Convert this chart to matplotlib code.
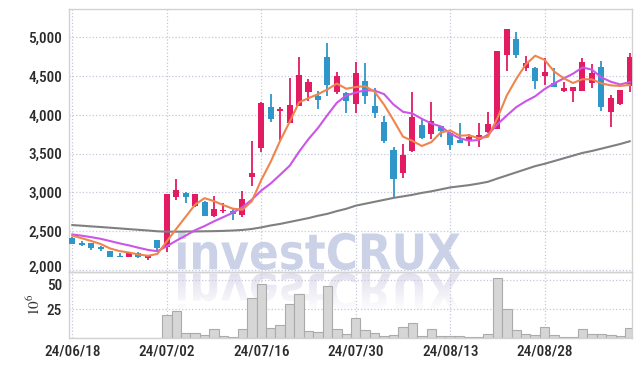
import numpy as np
import pandas as pd
import matplotlib
matplotlib.use('Agg')
import matplotlib.pyplot as plt
from matplotlib.textpath import TextPath
from matplotlib.patches import PathPatch
from matplotlib.font_manager import FontProperties
from matplotlib.transforms import Affine2D, ScaledTranslation
from matplotlib.ticker import FuncFormatter

# trading days (KRX, 8/15 holiday)
dates = pd.bdate_range('2024-06-18', '2024-09-10', freq='C', holidays=['2024-08-15'])

opens = [2416, 2352, 2348, 2300, 2245, 2185, 2172, 2223, 2155, 2387,
         2293, 2937, 2996, 2829, 2880, 2700, 2760, 2760, 2709, 3203,
         3568, 4101, 4053, 3895, 4118, 4298, 4243, 4746, 4298, 4282,
         4136, 4432, 4114, 3908, 3547, 3246, 3538, 3869, 3749, 3856,
         3770, 3676, 3676, 3689, 3775, 3821, 4775, 4978, 4608, 4608,
         4505, 4407, 4307, 4307, 4311, 4407, 4621, 4041, 4136, 4372]
highs = [2430, 2374, 2350, 2305, 2250, 2223, 2228, 2228, 2198, 2390,
         2985, 3169, 3010, 2985, 2885, 2958, 2868, 2795, 3022, 3667,
         4160, 4269, 4105, 4480, 4742, 4466, 4311, 4922, 4557, 4290,
         4686, 4664, 4350, 3985, 3582, 3624, 4290, 3946, 4162, 3860,
         3775, 3891, 3753, 3891, 4041, 4830, 5110, 5068, 4759, 4615,
         4729, 4600, 4420, 4365, 4729, 4651, 4690, 4256, 4325, 4793]
lows = [2330, 2310, 2254, 2249, 2168, 2168, 2168, 2160, 2129, 2245,
        2232, 2902, 2868, 2810, 2695, 2679, 2731, 2645, 2679, 3083,
        3521, 3904, 3676, 3890, 4110, 4182, 4071, 4243, 4269, 4020,
        4020, 4136, 3955, 3633, 2945, 3182, 3525, 3690, 3685, 3711,
        3547, 3635, 3598, 3590, 3770, 3815, 4569, 4729, 4569, 4333,
        4385, 4355, 4300, 4170, 4305, 4350, 4050, 3840, 4130, 4298]
closes = [2340, 2318, 2287, 2275, 2172, 2172, 2223, 2163, 2193, 2287,
          2980, 3031, 2945, 2980, 2700, 2786, 2773, 2718, 2911, 3250,
          4153, 3946, 4075, 4123, 4514, 4424, 4195, 4385, 4501, 4182,
          4535, 4247, 4028, 3667, 3177, 3482, 3972, 3698, 3917, 3796,
          3615, 3641, 3714, 3740, 3878, 4824, 5106, 4775, 4673, 4436,
          4552, 4363, 4346, 4359, 4681, 4543, 4105, 4217, 4320, 4746]
# closes before 06/18 (needed for the moving averages)
prev_closes = [2480, 2470, 2490, 2460, 2475, 2480, 2465, 2470, 2460]
# long moving average
ma_long = [2580, 2572, 2563, 2555, 2546, 2537, 2528, 2519, 2510, 2500,
           2495, 2495, 2497, 2498, 2500, 2502, 2505, 2510, 2517, 2530,
           2550, 2575, 2595, 2620, 2645, 2670, 2700, 2725, 2760, 2790,
           2830, 2855, 2880, 2905, 2930, 2950, 2970, 2995, 3015, 3040,
           3065, 3080, 3095, 3115, 3138, 3180, 3220, 3260, 3300, 3340,
           3370, 3405, 3440, 3475, 3510, 3535, 3565, 3595, 3625, 3660]
# volume in millions
volume = [0, 0, 0, 0, 0, 0, 0, 0, 0, 0,
          20.0, 22.9, 4.0, 4.0, 2.6, 7.8, 1.7, 0.9, 7.8, 34.8,
          47.0, 8.7, 11.6, 29.0, 38.3, 6.4, 5.2, 44.7, 7.8, 3.5,
          17.1, 7.0, 4.3, 1.7, 2.6, 9.2, 13.1, 1.7, 7.5, 1.7,
          1.7, 1.5, 0.9, 0.9, 3.5, 51.4, 25.3, 7.0, 3.5, 2.6,
          9.2, 2.6, 0.9, 0.9, 7.5, 3.5, 3.5, 2.6, 1.7, 8.7]

up_color = '#e31b63'
down_color = '#2f96c9'
grid_color = '#c3c8dc'

all_close = pd.Series(prev_closes + closes)
ma5 = all_close.rolling(5).mean().values[len(prev_closes):]
ma10 = all_close.rolling(10).mean().values[len(prev_closes):]

x = np.arange(len(closes))

plt.rcParams['font.family'] = ['Roboto Condensed', 'Roboto', 'DejaVu Sans']
plt.rcParams['mathtext.fontset'] = 'stix'

fig = plt.figure(figsize=(6.42, 3.66), dpi=100)

# watermark layer in pixel coordinates
wm = fig.add_axes([0, 0, 1, 1], zorder=0)
tp = TextPath((0, 0), 'investCRUX', size=50, prop=FontProperties(family='DejaVu Sans', weight='bold'))
ext = tp.get_extents()
sx = (460 - 178) / ext.width
sy = (270 - 232) / ext.height
main_tr = Affine2D().translate(-ext.x0, -ext.y0).scale(sx, -sy).translate(178, 270)
refl_tr = Affine2D().translate(-ext.x0, -ext.y0).scale(sx, sy).translate(178, 273)
wm.add_patch(PathPatch(main_tr.transform_path(tp), fc='#cbd2e8', ec='none'))
wm.add_patch(PathPatch(refl_tr.transform_path(tp), fc='#e2e0ee', ec='none'))
fade = np.ones((60, 2, 4))
fade[:, :, 3] = np.linspace(0.0, 1, 60)[:, None]
wm.imshow(fade, extent=[170, 470, 312, 273], aspect='auto', zorder=3)
wm.set_xlim(0, 642)
wm.set_ylim(366, 0)
wm.axis('off')

ax = fig.add_axes([0.1075, 0.2568, 0.877, 0.7186], zorder=1)
axv = fig.add_axes([0.1075, 0.0765, 0.877, 0.1803], zorder=1, sharex=ax)
for a in (ax, axv):
    a.set_facecolor('none')
    for s in a.spines.values():
        s.set_color('#d2d2d2')
        s.set_linewidth(1)
    a.grid(True, color=grid_color, linestyle=':', linewidth=0.9)
    a.set_axisbelow(True)
    a.tick_params(length=0, labelsize=11, colors='#2b2b2b', pad=5)

# candles
for i in x:
    o, h, l, c = opens[i], highs[i], lows[i], closes[i]
    col = up_color if c >= o else down_color
    ax.vlines(i, l, h, color=col, linewidth=1.3, zorder=2)
    ax.bar(i, max(abs(c - o), 12), bottom=min(o, c), width=0.64, color=col, zorder=3)

ax.plot(x, ma_long, color='#808080', linewidth=1.5, zorder=4)
ax.plot(x, ma10, color='#cc55e8', linewidth=1.5, zorder=4)
ax.plot(x, ma5, color='#f0844c', linewidth=1.5, zorder=4)

ax.set_ylim(1975, 5365)
ax.set_yticks([2000, 2500, 3000, 3500, 4000, 4500, 5000])
ax.yaxis.set_major_formatter(FuncFormatter(lambda v, p: '{:,.0f}'.format(v)))
ax.tick_params(axis='x', labelbottom=False)

axv.bar(x, volume, width=1.0, color='#d6d6d6', edgecolor='#ababab', linewidth=0.8, zorder=2)
axv.set_ylim(0, 57)
axv.set_yticks([25, 50])
axv.set_ylabel(r'$10^6$', fontsize=11, color='#333333', labelpad=3)
axv.set_xlim(-0.35, 59.25)
ticks = list(range(0, len(dates), 10))
axv.set_xticks(ticks)
axv.set_xticklabels([dates[i].strftime('%y/%m/%d') for i in ticks])

for a in (ax, axv):
    for lab in a.get_xticklabels() + a.get_yticklabels():
        lab.set_fontweight('medium')

# keep "2,000" and "50" from sitting on top of each other
lab2000 = ax.get_yticklabels()[0]
lab2000.set_transform(lab2000.get_transform() + ScaledTranslation(0, 3 / 72, fig.dpi_scale_trans))
lab50 = axv.get_yticklabels()[1]
lab50.set_transform(lab50.get_transform() + ScaledTranslation(0, -3 / 72, fig.dpi_scale_trans))

fig.savefig('out.png', dpi=100)
